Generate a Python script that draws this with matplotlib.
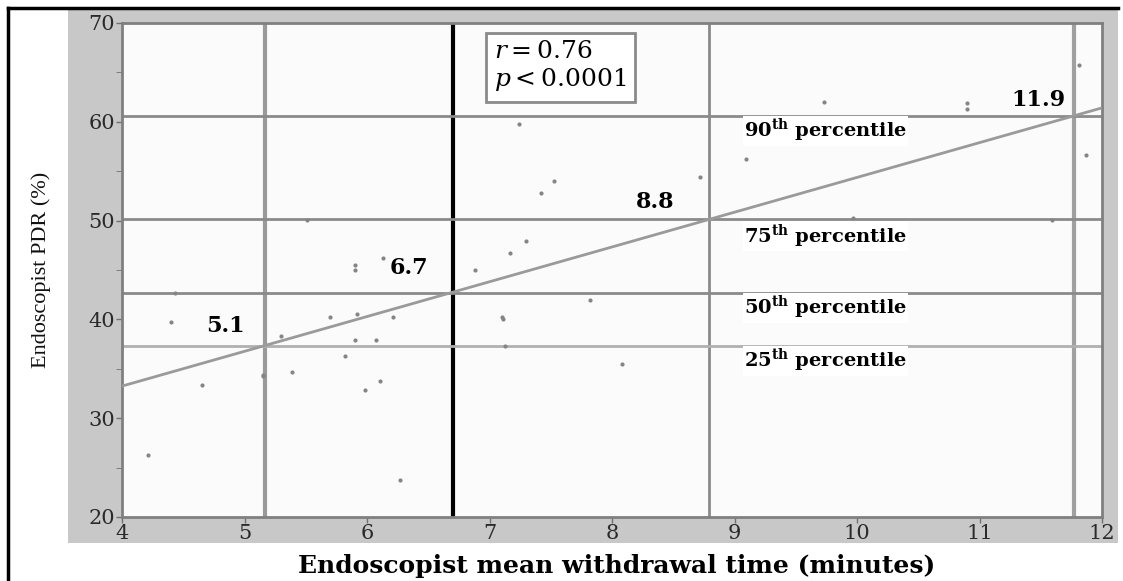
import matplotlib
matplotlib.use('Agg')
import matplotlib.pyplot as plt
from matplotlib.patches import Rectangle
from matplotlib.lines import Line2D

# ---- data ----
withdrawal_time = [4.21, 4.40, 4.43, 4.65, 5.15, 5.15, 5.30, 5.39, 5.51, 5.70,
                   5.82, 5.90, 5.92, 5.90, 5.90, 5.98, 6.07, 6.11, 6.13, 6.21,
                   6.27, 6.88, 7.10, 7.11, 7.13, 7.17, 7.24, 7.30, 7.42, 7.53,
                   7.82, 8.08, 8.72, 9.09, 9.73, 9.97, 10.90, 10.90, 11.59, 11.81,
                   11.87]
pdr = [26.3, 39.7, 42.7, 33.4, 34.4, 34.3, 38.3, 34.7, 50.1, 40.2,
       36.3, 37.9, 40.5, 45.5, 45.0, 32.9, 37.9, 33.8, 46.2, 40.2,
       23.7, 45.0, 40.2, 40.0, 37.3, 46.7, 59.8, 47.9, 52.8, 54.0,
       42.0, 35.5, 54.4, 56.2, 62.0, 50.3, 61.9, 61.3, 50.1, 65.7,
       56.6]

# regression line
slope, intercept = 3.52, 19.17

# percentile cut points (x = withdrawal time, y = PDR)
pct_names = ['25', '50', '75', '90']
pct_x = [5.17, 6.70, 8.79, 11.77]
pct_y = [37.3, 42.7, 50.2, 60.6]
pct_x_labels = ['5.1', '6.7', '8.8', '11.9']

plt.rcParams['font.family'] = ['DejaVu Serif']
plt.rcParams['mathtext.fontset'] = 'custom'
plt.rcParams['mathtext.rm'] = 'DejaVu Serif'
plt.rcParams['mathtext.it'] = 'DejaVu Serif:italic'
plt.rcParams['mathtext.bf'] = 'DejaVu Serif:bold'

W, H = 1123, 581
fig = plt.figure(figsize=(W / 100, H / 100), dpi=100)
fig.patch.set_facecolor('white')

# gray band behind the axes and tick labels
fig.patches.append(Rectangle((68 / W, 1 - 543 / H), (1118 - 68) / W, (543 - 10) / H,
                             transform=fig.transFigure, facecolor='#c8c8c8',
                             edgecolor='none', zorder=-10))
# black frame on left and top
fig.lines.append(Line2D([8 / W, 8 / W], [0, 1 - 8 / H], transform=fig.transFigure,
                        color='black', lw=2.5))
fig.lines.append(Line2D([8 / W, 1118 / W], [1 - 8 / H, 1 - 8 / H],
                        transform=fig.transFigure, color='black', lw=2.5))

ax = fig.add_axes([122 / W, 1 - 517 / H, (1102 - 122) / W, (517 - 23) / H])
ax.set_zorder(1)
ax.set_facecolor('#fbfbfb')
ax.set_xlim(4, 12)
ax.set_ylim(20, 70)

# vertical percentile lines
v_colors = ['#9a9a9a', 'black', '#8a8a8a', '#a0a0a0']
v_widths = [3, 3, 2, 3]
for xv, c, w in zip(pct_x, v_colors, v_widths):
    ax.axvline(xv, color=c, lw=w, zorder=2)

# horizontal percentile lines
h_colors = ['#b0b0b0', '#8a8a8a', '#8a8a8a', '#8a8a8a']
for yv, c in zip(pct_y, h_colors):
    ax.axhline(yv, color=c, lw=2, zorder=2)

# regression line
xs = [4, 12]
ax.plot(xs, [slope * v + intercept for v in xs], color='#9a9a9a', lw=2, zorder=3)

# points
ax.scatter(withdrawal_time, pdr, s=9, color='#858585', zorder=4, linewidths=0)

# cut point labels
label_pos = [(5.0, 39.3), (6.5, 45.2), (8.51, 51.9), (11.7, 62.2)]
for (lx, ly), t in zip(label_pos, pct_x_labels):
    ax.text(lx, ly, t, fontsize=16, fontweight='bold', ha='right', va='center',
            zorder=5)

# percentile labels
pct_label_y = [35.8, 41.2, 48.4, 59.1]
for yv, n in zip(pct_label_y, pct_names):
    ax.text(9.08, yv, n + r'$^{\mathbf{th}}$' + ' percentile', fontsize=14,
            fontweight='bold', ha='left', va='center', zorder=5,
            bbox=dict(facecolor='white', edgecolor='none', pad=1))

# r / p box
ax.text(7.04, 68.3, '$r = 0.76$\n$p < 0.0001$', fontsize=18, ha='left', va='top',
        linespacing=1.15, zorder=6,
        bbox=dict(facecolor='white', edgecolor='#8a8a8a', lw=2,
                  boxstyle='square,pad=0.35'))

for s in ax.spines.values():
    s.set_color('#808080')
    s.set_linewidth(2)

ax.set_xticks(range(4, 13))
ax.set_yticks(range(20, 71, 10))
ax.set_yticks(range(25, 70, 10), minor=True)
ax.tick_params(axis='both', labelsize=15, colors='#707070', labelcolor='#2a2a2a',
               length=4, width=1, pad=1)
ax.tick_params(axis='y', which='minor', length=4, colors='#707070')

ax.set_xlabel('Endoscopist mean withdrawal time (minutes)', fontsize=18,
              fontweight='bold', va='center')
ax.xaxis.set_label_coords(0.505, (517 - 566) / 494)
ax.set_ylabel('Endoscopist PDR (%)', fontsize=16, va='center',
              family='Liberation Serif', color='#111111')
ax.yaxis.set_label_coords((41 - 122) / 980, 0.5)

fig.savefig('out.png', dpi=100)
